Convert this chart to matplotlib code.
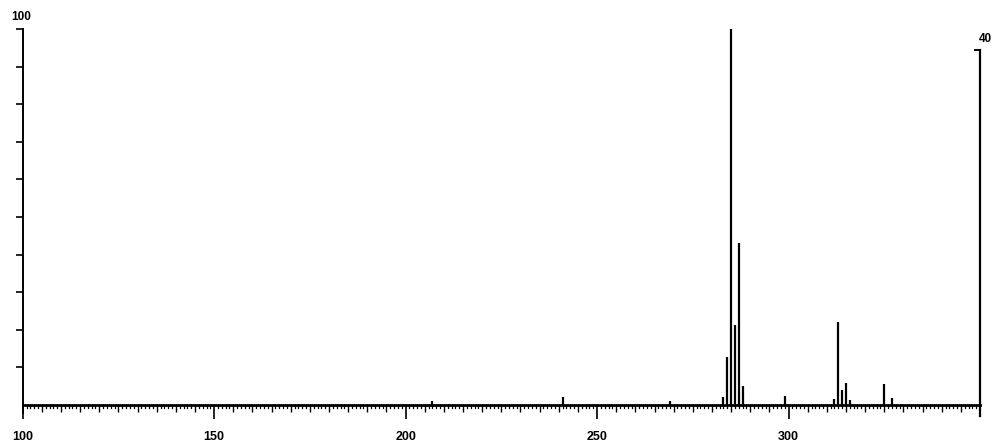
import matplotlib
matplotlib.use("Agg")
import matplotlib.pyplot as plt
import numpy as np

# m/z values and relative intensities of the spectrum lines
mz = [207, 241, 269, 283, 284, 285, 286, 287, 288, 299, 312, 313, 314, 315, 316, 325, 327]
intensity = [1, 2, 1, 2, 12.7, 100, 21.3, 43, 5, 2.5, 1.5, 22, 4, 5.8, 1.4, 5.5, 1.8]

x_labels = [100, 150, 200, 250, 300]
y_top_label = "100"
right_scale_label = "40"

plt.rcParams['font.family'] = ['Liberation Sans', 'DejaVu Sans']

fig = plt.figure(figsize=(9.93, 4.42), dpi=100)
W, H = 993, 442
x0, x1 = 22.7, 980
y0, y1 = 405, 29
ax = fig.add_axes([x0 / W, (H - y0) / H, (x1 - x0) / W, (y0 - y1) / H])
ax.set_xlim(100, 350)
ax.set_ylim(0, 100)

ax.vlines(mz, 0, intensity, colors="black", linewidth=1.6)

for s in ("top", "right"):
    ax.spines[s].set_visible(False)
ax.spines["bottom"].set_linewidth(2.0)
ax.spines["left"].set_linewidth(1.4)
ax.spines["left"].set_bounds(-2, 100)

# x axis: unit ticks, longer every 5, labelled every 50
ax.set_xticks(x_labels)
ax.set_xticklabels([str(v) for v in x_labels], fontsize=9, fontweight="bold")
ax.set_xticks([v for v in range(100, 350) if v % 5 == 0 and v % 50 != 0], minor=True)
ax.tick_params(axis="x", which="major", direction="out", length=10, width=1.2, pad=9)
ax.tick_params(axis="x", which="minor", direction="out", length=5, width=1.0)
for v in range(101, 350):
    if v % 5 != 0:
        ax.plot([v, v], [0, -0.8], color="black", lw=0.9, clip_on=False,
                transform=ax.transData)

# y axis: ticks every 10, only the top one labelled above the axis
ax.set_yticks(np.arange(10, 101, 10))
ax.set_yticklabels([])
ax.tick_params(axis="y", direction="out", length=5, width=1.2)
ax.text(99.5, 101.5, y_top_label, fontsize=8.5, fontweight="bold", ha="center", va="bottom")

# right-hand scale bracket
ax.plot([350, 350], [-3, 94.4], color="black", lw=1.6, clip_on=False)
ax.plot([348.7, 350], [94.4, 94.4], color="black", lw=1.4, clip_on=False)
ax.text(351.5, 95.8, right_scale_label, fontsize=8.5, fontweight="bold", ha="center", va="bottom")

fig.savefig("out.png", dpi=100)
